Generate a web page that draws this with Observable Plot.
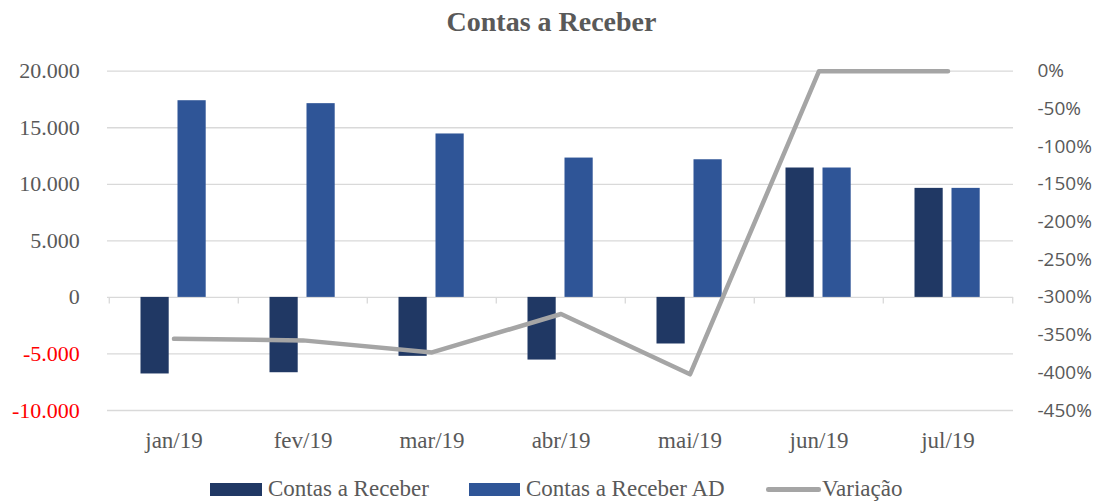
<!DOCTYPE html>
<html>
<head>
<meta charset="utf-8">
<script src="https://cdn.jsdelivr.net/npm/d3@7"></script>
<script src="https://cdn.jsdelivr.net/npm/@observablehq/plot@0.6"></script>
<style>
  html, body { margin: 0; padding: 0; background: #fff; }
  #root { position: relative; width: 1103px; height: 501px; overflow: hidden; background: #fff; }
  #title { position: absolute; left: 0; top: 8px; width: 1103px; text-align: center;
           font: bold 28px/28px "Liberation Serif", serif; color: #595959; }
  #chart { position: absolute; left: 0; top: 45px; }
  .lg { position: absolute; font: 23px/23px "Liberation Serif", serif; color: #595959; white-space: nowrap; }
  .sw { position: absolute; }
</style>
</head>
<body>
<div id="root">
  <div id="title"></div>
  <div id="chart"></div>
  <div id="legend"></div>
</div>
<script>
const titleText = "Contas a Receber";
const months = ["jan/19", "fev/19", "mar/19", "abr/19", "mai/19", "jun/19", "jul/19"];
const contasReceber = [-6770, -6660, -5210, -5540, -4120, 11440, 9640];
const contasReceberAD = [17390, 17130, 14450, 12320, 12170, 11440, 9640];
const variacao = [-355, -357, -373, -322, -402, 0, 0]; // percent
const leftTicksPos = [0, 5000, 10000, 15000, 20000];
const leftTicksNeg = [-10000, -5000];
const rightTicks = [0, -50, -100, -150, -200, -250, -300, -350, -400, -450];
const seriesNames = ["Contas a Receber", "Contas a Receber AD", "Variação"];
const colors = ["#203864", "#2F5597", "#A5A5A5"];

// secondary axis mapping: 0% -> 20000, -450% -> -10000
const pctToY = p => 20000 + p * (30000 / 450);
const yToPct = v => Math.round((v - 20000) * 450 / 30000);
const fmtNum = d => (d < 0 ? "-" : "") + String(Math.abs(d)).replace(/\B(?=(\d{3})+(?!\d))/g, ".");

const crData = months.map((m, i) => ({month: m, v: contasReceber[i]}));
const adData = months.map((m, i) => ({month: m, v: contasReceberAD[i]}));
const varData = months.map((m, i) => ({month: m, p: variacao[i]}));

document.getElementById("title").textContent = titleText;

const W = 1103, H = 415, mL = 107, mR = 90;
const band = (W - mL - mR) / months.length;
const serif = "Liberation Serif";

const chart = Plot.plot({
  width: W, height: H,
  marginTop: 25.7, marginBottom: 50, marginLeft: mL, marginRight: mR,
  style: {background: "#fff", fontFamily: serif, color: "#595959"},
  x: {type: "band", domain: months, padding: 0},
  y: {type: "linear", domain: [-10000, 20000]},
  marks: [
    Plot.ruleY([...leftTicksNeg, ...leftTicksPos], {stroke: "#d9d9d9", strokeWidth: 1.3}),
    Plot.ruleX(months, {x: d => d, y1: 0, y2: 0, insetBottom: -6.7, dx: -band / 2, stroke: "#d9d9d9", strokeWidth: 1.3}),
    Plot.ruleX([months[months.length - 1]], {x: d => d, y1: 0, y2: 0, insetBottom: -6.7, dx: band / 2, stroke: "#d9d9d9", strokeWidth: 1.3}),
    Plot.barY(crData, {x: "month", y: "v", fill: colors[0], insetLeft: 31.5, insetRight: 69.3}),
    Plot.barY(adData, {x: "month", y: "v", fill: colors[1], insetLeft: 68.5, insetRight: 32.3}),
    Plot.line(varData, {x: "month", y: d => pctToY(d.p), stroke: colors[2], strokeWidth: 4.5,
                        strokeLinecap: "round", strokeLinejoin: "round"}),
    Plot.axisY(leftTicksPos, {anchor: "left", tickSize: 0, tickPadding: 27.7, tickFormat: fmtNum, label: null,
                              color: "#595959", fontSize: 22, fontFamily: serif}),
    Plot.axisY(leftTicksNeg, {anchor: "left", tickSize: 0, tickPadding: 27.7, tickFormat: fmtNum, label: null,
                              color: "#FF0000", fontSize: 22, fontFamily: serif}),
    Plot.axisY(rightTicks.map(pctToY), {anchor: "right", tickSize: 0, tickPadding: 24, label: null,
                              tickFormat: v => yToPct(v) + "%", color: "#595959",
                              fontSize: 19, fontFamily: "Open Sans"}),
    Plot.axisX(months, {anchor: "bottom", tickSize: 0, tickPadding: 20.7, color: "#595959",
                        fontSize: 23, fontFamily: serif, label: null})
  ]
});
document.getElementById("chart").appendChild(chart);

// Legend
const legend = document.getElementById("legend");
const legendItems = [
  {name: seriesNames[0], color: colors[0], kind: "rect", sx: 210, tx: 268},
  {name: seriesNames[1], color: colors[1], kind: "rect", sx: 468.5, tx: 526},
  {name: seriesNames[2], color: colors[2], kind: "line", sx: 766, tx: 822}
];
for (const it of legendItems) {
  const sw = document.createElement("div");
  sw.className = "sw";
  if (it.kind === "rect") {
    Object.assign(sw.style, {left: it.sx + "px", top: "483.3px", width: "51.7px", height: "12.4px", background: it.color});
  } else {
    Object.assign(sw.style, {left: it.sx + "px", top: "487.3px", width: "55px", height: "4.5px", background: it.color, borderRadius: "2.25px"});
  }
  legend.appendChild(sw);
  const t = document.createElement("div");
  t.className = "lg";
  t.textContent = it.name;
  Object.assign(t.style, {left: it.tx + "px", top: "477px"});
  legend.appendChild(t);
}
</script>
</body>
</html>
